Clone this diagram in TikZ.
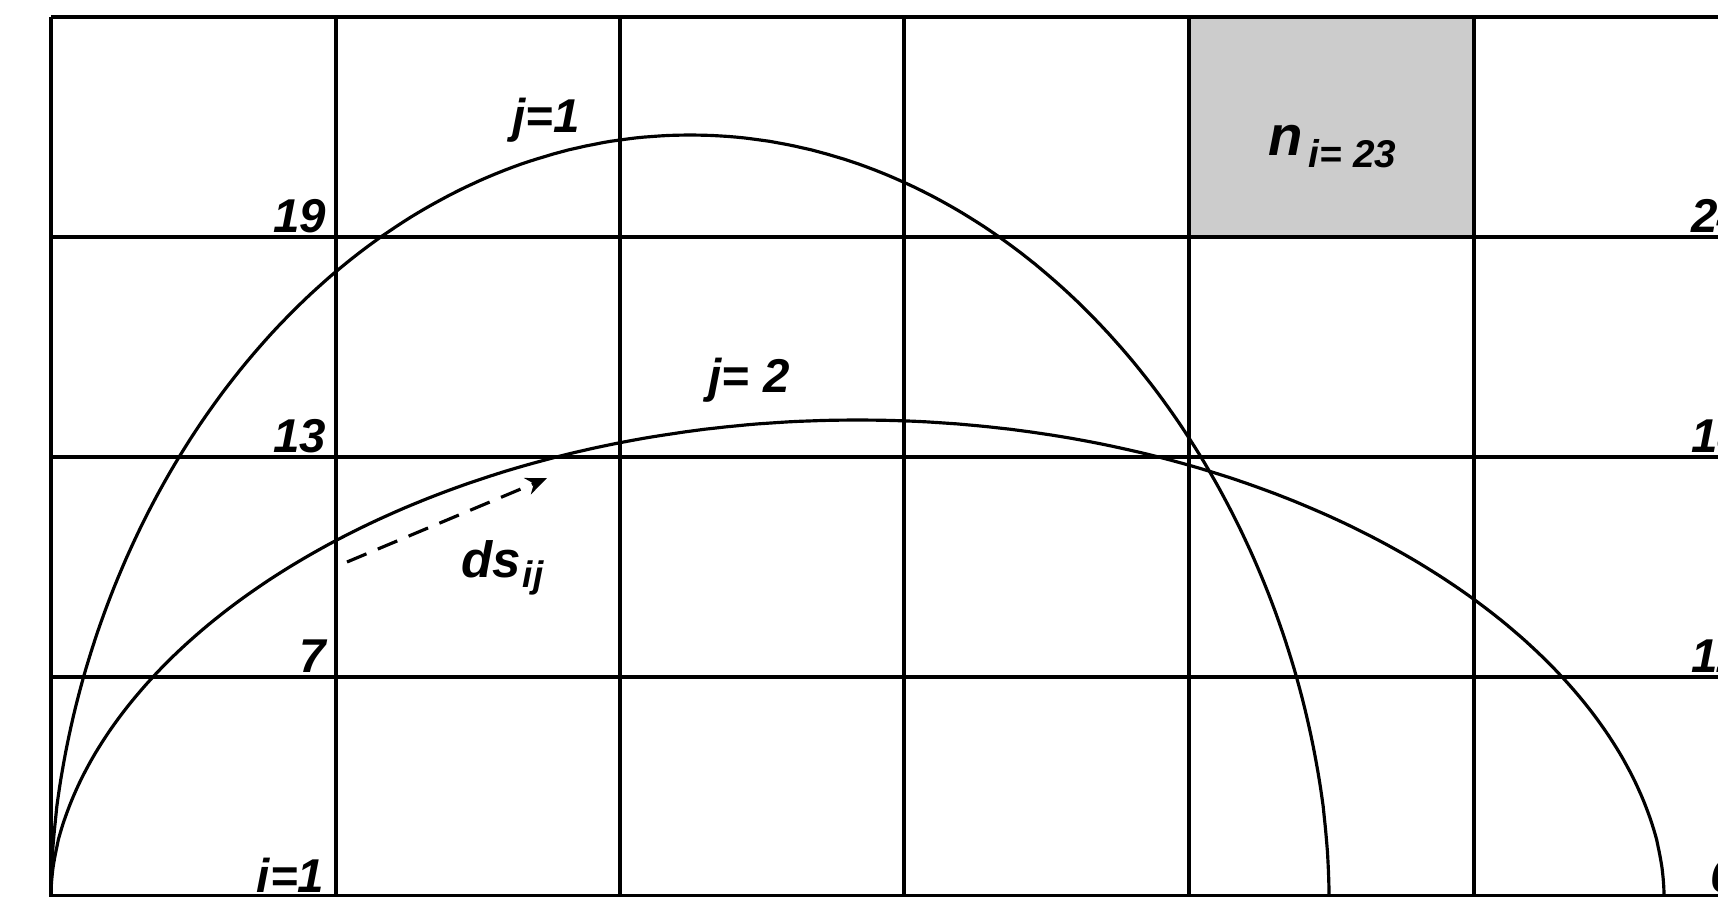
\documentclass[tikz,border=0pt]{standalone}
\usepackage{fontspec}
\setmainfont{Liberation Sans}
\usetikzlibrary{arrows.meta}
\definecolor{cellgray}{HTML}{CCCCCC}
\begin{document}
\begin{tikzpicture}[x=0.01cm,y=-0.01cm,
  gridline/.style={line width=1pt},
  curve/.style={line width=0.9pt},
  lab/.style={font=\fontsize{13.5}{14}\selectfont\bfseries\itshape, inner sep=0pt},
  dasharrow/.style={line width=0.9pt, dash pattern=on 6pt off 3.5pt, -{Stealth[length=6pt,width=5pt]}}
]
\useasboundingbox (0,0) rectangle (1718,897);
\clip (0,0) rectangle (1718,897);
\fill[white] (0,0) rectangle (1718,897);
\fill[cellgray] (1189,17) rectangle (1474,237);
% grid
\foreach \xx in {51,336,620,904,1189,1474} \draw[gridline] (\xx,17) -- (\xx,897);
\foreach \yy in {17,237,457,677,896} \draw[gridline] (51,\yy) -- (1718,\yy);
% curves
\draw[curve] (51,895) -- plot[domain=0.2:179.8, samples=240] ({690-639*cos(\x)}, {895-760*pow(sin(\x),1.081)}) -- (1329,895);
\draw[curve] (51,895) -- plot[domain=0.2:179.8, samples=240] ({857.5-806.5*cos(\x)}, {895-475*pow(sin(\x),1.081)}) -- (1664,895);
% cell numbers
\node[lab, anchor=base east] (l19) at (327,232) {19};
\node[lab, anchor=base east] (l13) at (327,452) {13};
\node[lab, anchor=base east] (l7) at (327,672) {7};
\node[lab, anchor=base east] (l1) at (325,892) {i=1};
\node[lab, anchor=base east] (l24) at (1745,232) {24};
\node[lab, anchor=base east] (l18) at (1745,452) {18};
\node[lab, anchor=base east] (l12) at (1745,672) {12};
\node[lab, anchor=base west] (l6) at (1710,892) {6};
% curve labels
\node[lab, anchor=base] (j1) at (546,132) {j=1};
\node[lab, anchor=base] (j2) at (749,392) {j=\hspace{0.3em}2};
\node[lab, anchor=base west] (n23) at (1268,155) {\fontsize{16}{17}\selectfont n\hspace{1.5pt}\raisebox{-3.6pt}{\fontsize{11}{12}\selectfont i=\hspace{0.3em}23}};
\node[lab, anchor=base west] (ds) at (461,577) {\fontsize{14.5}{15}\selectfont ds\hspace{0.5pt}\raisebox{-3pt}{\fontsize{10.5}{11}\selectfont ij}};
% step arrow
\coordinate (as) at (347,562);
\coordinate (ae) at (547,478);
\draw[dasharrow] (as) -- (ae);
\end{tikzpicture}
\end{document}
